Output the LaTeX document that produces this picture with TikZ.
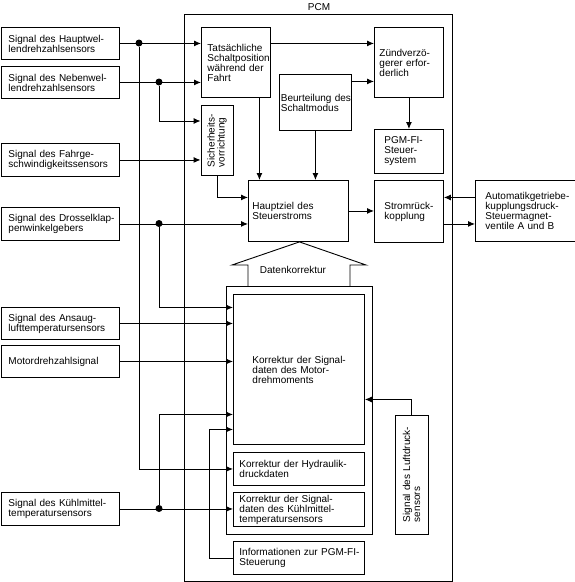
\documentclass[tikz,border=0pt]{standalone}
\usepackage{fontspec}
\setmainfont{Liberation Sans}
\usetikzlibrary{arrows.meta}
\newcommand\mynohyph{\hyphenpenalty=10000 \exhyphenpenalty=10000 \relax}
\newcommand\myfont{\fontsize{10}{10}\selectfont\mynohyph}
\begin{document}
\begin{tikzpicture}[x=1pt,y=-1pt,line width=0.9pt,
  every node/.style={font=\myfont},
  bx/.style={draw,anchor=north west,align=left,inner ysep=0pt},
  rbx/.style={draw,rotate=90,anchor=center,align=left,inner ysep=0pt},
  framebox/.style={draw,anchor=north west,inner sep=0pt},
  arr/.style={-{Latex[length=7pt,width=6pt]}},
  dot/.style={circle,fill,inner sep=0pt,minimum size=7pt}]
\useasboundingbox (0,0) rectangle (575,582);

% frames
\node[framebox,minimum width=268,minimum height=567] (pcm) at (184,14) {};
\node (pcml) at (319,7) {PCM};
\node[framebox,minimum width=146,minimum height=248] (og) at (226,286) {};

% left sensor boxes
\node[bx,minimum width=118.5,minimum height=32,text width=103.5,inner xsep=7.5] (s1) at (0.5,27) {Signal~des~Hauptwel-\\lendrehzahlsensors};
\node[bx,minimum width=118.5,minimum height=32,text width=103.5,inner xsep=7.5] (s2) at (0.5,66) {Signal~des~Nebenwel-\\lendrehzahlsensors};
\node[bx,minimum width=118.5,minimum height=33,text width=103.5,inner xsep=7.5] (s3) at (0.5,143) {Signal~des~Fahrge-\\schwindigkeitssensors};
\node[bx,minimum width=118.5,minimum height=33,text width=103.5,inner xsep=7.5] (s4) at (0.5,207) {Signal~des~Drosselklap-\\penwinkelgebers};
\node[bx,minimum width=118.5,minimum height=32,text width=103.5,inner xsep=7.5] (s5) at (0.5,307) {Signal~des~Ansaug-\\lufttemperatursensors};
\node[bx,minimum width=118.5,minimum height=32,text width=103.5,inner xsep=7.5] (s6) at (0.5,345) {Motordrehzahlsignal};
\node[bx,minimum width=118.5,minimum height=33,text width=103.5,inner xsep=7.5] (s7) at (0.5,492) {Signal~des~Kühlmittel-\\temperatursensors};

% inner PCM boxes
\node[bx,minimum width=69,minimum height=70,text width=57,inner xsep=6] (t) at (201,27) {Tatsächliche\\Schaltposition\\während~der\\Fahrt};
\node[rbx,minimum width=70,minimum height=32,text width=54,inner xsep=8] (sv) at (217,140) {Sicherheits-\\vorrichtung};
\node[bx,minimum width=72,minimum height=56,text width=69,inner xsep=1.5] (b) at (279,74) {Beurteilung~des\\Schaltmodus};
\node[bx,minimum width=69,minimum height=70,text width=59,inner xsep=5] (z) at (374,27) {Zündverzö-\\gerer~erfor-\\derlich};
\node[bx,minimum width=69,minimum height=44,text width=49,inner xsep=10] (p) at (374,129) {PGM-FI-\\Steuer-\\system};
\node[bx,minimum width=100,minimum height=61,text width=92,inner xsep=4] (hz) at (248,180) {Hauptziel~des\\Steuerstroms};
\node[bx,minimum width=69,minimum height=62,text width=49,inner xsep=10] (sr) at (374,180) {Stromrück-\\kopplung};
\node[bx,minimum width=99.5,minimum height=61,text width=79.5,inner xsep=10] (au) at (475,180) {Automatikgetriebe-\\kupplungsdruck-\\Steuermagnet-\\ventile~A~und~B};

\node[bx,minimum width=131,minimum height=150,text width=93,inner xsep=19] (kt) at (233,294) {Korrektur~der~Signal-\\daten~des~Motor-\\drehmoments};
\node[bx,minimum width=131,minimum height=33,text width=119,inner xsep=6] (hy) at (233,452) {Korrektur~der~Hydraulik-\\druckdaten};
\node[bx,minimum width=131,minimum height=34,text width=119,inner xsep=6] (kk) at (233,492) {Korrektur~der~Signal-\\daten~des~Kühlmittel-\\temperatursensors};
\node[bx,minimum width=131,minimum height=33,text width=119,inner xsep=6] (in) at (233,541) {Informationen~zur~PGM-FI-\\Steuerung};
\node[rbx,minimum width=119,minimum height=33,text width=95,inner xsep=12] (lf) at (411.5,474.5) {Signal~des~Luftdruck-\\sensors};

% Datenkorrektur arrow
\draw (248,286) -- (248,265) -- (232,265) -- ([xshift=1pt]hz.south) -- (366,265) -- (350,265) -- (350,286);
\node (dk) at (293,270) {Datenkorrektur};

% junction dots
\node[dot] (d1) at (139,43) {};
\node[dot] (d2) at (159,82) {};
\node[dot] (d3) at (159,223.5) {};
\node[dot] (d4) at (159,508.5) {};

% connectors from sensors
\draw[arr] (s1.east) -- (s1.east -| t.west);
\draw[arr] (s2.east) -- (s2.east -| t.west);
\draw[arr] (d1) |- (hy.west);
\draw[arr] (d2) |- ([yshift=19pt]sv.north);
\draw[arr] (s3.east) -- (s3.east -| sv.north);
\draw[arr] (s4.east) -- (s4.east -| hz.west);
\draw[arr] (d3) |- ([yshift=62pt]kt.west);
\draw[arr] (s5.east) -- (s5.east -| kt.west);
\draw[arr] (s6.east) -- (s6.east -| kt.west);
\draw[arr] (d4) |- ([yshift=-45pt]kt.west);
\draw[arr] (s7.east) -- (s7.east -| kk.west);
\draw[arr] (in.west) -- ++(-24,0) |- ([yshift=-60pt]kt.west);

% internal connectors
\draw[arr] (sv.west) |- ([yshift=13.5pt]hz.west);
\draw[arr] ([yshift=19pt]t.east) -- ([yshift=19pt]z.west);
\draw[arr] ([yshift=21pt]b.east) -- ([yshift=21pt]b.east -| z.west);
\draw[arr] (z.south) -- (z.south |- p.north);
\draw[arr] (b.south) -- (b.south |- hz.north);
\draw[arr] ([xshift=23.5pt]t.south) -- ([xshift=23.5pt]t.south |- hz.north);
\draw[arr] (hz.east) -- (hz.east -| sr.west);
\draw[arr] ([yshift=13.5pt]au.west) -- ([yshift=13.5pt]au.west -| sr.east);
\draw[arr] ([yshift=-12.5pt]sr.east) -- ([yshift=-12.5pt]sr.east -| au.west);
\draw[arr] (lf.east) |- ([yshift=-30pt]kt.east);
\end{tikzpicture}
\end{document}
